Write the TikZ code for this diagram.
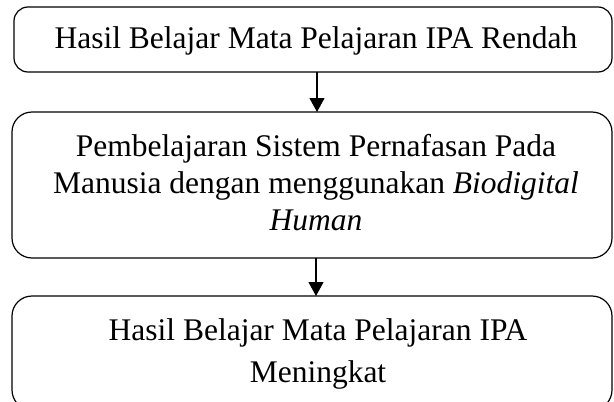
\documentclass[tikz,border=0pt]{standalone}
\usepackage{fontspec}
\setmainfont{Liberation Serif}
\usetikzlibrary{arrows.meta}
\begin{document}
\begin{tikzpicture}[x=1pt,y=-1pt,
  box/.style={draw,line width=1.2pt,rounded corners=#1,inner sep=0pt},
  conn/.style={line width=1.2pt,-{Triangle[width=15pt,length=14pt]}},
  txt/.style={font=\fontsize{31.5}{37}\selectfont,align=center}]
\useasboundingbox (0,0) rectangle (614,402);
\draw[box=14pt] (14,7) rectangle (612,72);
\node[txt] (t1) at (316,41) {Hasil Belajar Mata Pelajaran IPA Rendah};
\draw[box=20pt] (12,112) rectangle (612,258);
\node[txt] (t2) at (316,183) {Pembelajaran Sistem Pernafasan Pada\\Manusia dengan menggunakan \textit{Biodigital}\\\textit{Human}};
\draw[box=20pt] (12,296) rectangle (612,410);
\node[txt,font=\fontsize{31.5}{42}\selectfont] (t3) at (318,353.6) {Hasil Belajar Mata Pelajaran IPA\\Meningkat};
\coordinate (a1) at (317,72);
\coordinate (b1) at (317,112);
\coordinate (a2) at (316,258);
\coordinate (b2) at (316,296);
\draw[conn] (a1) -- (b1);
\draw[conn] (a2) -- (b2);
\end{tikzpicture}
\end{document}
